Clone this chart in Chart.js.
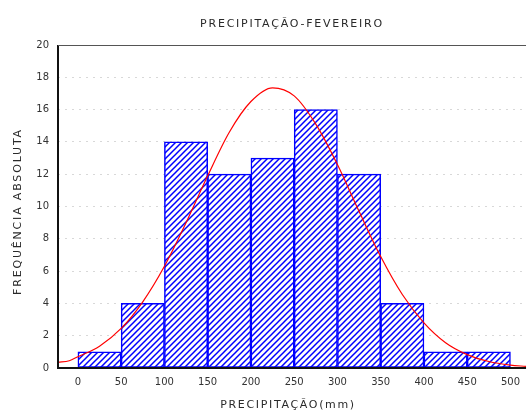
<!DOCTYPE html>
<html>
<head>
<meta charset="utf-8">
<script src="https://cdn.jsdelivr.net/npm/chart.js@4"></script>
<style>
  html, body { margin: 0; padding: 0; background: #fff; }
  canvas { display: block; }
</style>
</head>
<body>
<canvas id="histChart" width="528" height="412"></canvas>
<script>
// Data
const binCenters = [25, 75, 125, 175, 225, 275, 325, 375, 425, 475];
const frequencies = [1, 4, 14, 12, 13, 16, 12, 4, 1, 1];

// fitted normal curve
const curveX = [-23, -10, 0, 25, 50, 75, 100, 125, 150, 175, 200, 225, 250, 275, 300, 325, 350, 375, 400, 425, 450, 475, 500, 518];
const curveY = [0.35, 0.45, 0.7, 1.35, 2.45, 4.1, 6.3, 9.0, 11.9, 14.6, 16.5, 17.35, 16.85, 15.1, 12.6, 9.7, 6.9, 4.55, 2.8, 1.57, 0.83, 0.4, 0.18, 0.1];

const xTicks = [0, 50, 100, 150, 200, 250, 300, 350, 400, 450, 500];
const yTicks = [0, 2, 4, 6, 8, 10, 12, 14, 16, 18, 20];

const chartTitle = "PRECIPITAÇÃO-FEVEREIRO";
const xTitle = "PRECIPITAÇÃO(mm)";
const yTitle = "FREQUÊNCIA ABSOLUTA";

const FONT = "'DejaVu Sans', 'Liberation Sans', sans-serif";

// Diagonal hatch fill for the bars
function makeHatch() {
  const size = 6;
  const c = document.createElement("canvas");
  c.width = size;
  c.height = size;
  const g = c.getContext("2d");
  g.fillStyle = "#ffffff";
  g.fillRect(0, 0, size, size);
  g.strokeStyle = "#0000ff";
  g.lineWidth = 1.5;
  g.beginPath();
  g.moveTo(-1, size + 1);
  g.lineTo(size + 1, -1);
  g.moveTo(-1, 1);
  g.lineTo(1, -1);
  g.moveTo(size - 1, size + 1);
  g.lineTo(size + 1, size - 1);
  g.stroke();
  return g.createPattern(c, "repeat");
}

// spaced-out caption, stretched to a given width
function drawSpaced(ctx, text, cx, cy, width, angle) {
  ctx.save();
  ctx.font = "11px " + FONT;
  ctx.fillStyle = "#2a2a2a";
  ctx.textAlign = "center";
  ctx.textBaseline = "middle";
  const w = ctx.measureText(text).width;
  ctx.letterSpacing = Math.max(0, (width - w) / (text.length - 1)).toFixed(2) + "px";
  ctx.translate(cx, cy);
  ctx.rotate(angle);
  ctx.fillText(text, 0, 0);
  ctx.restore();
}

// Axis lines, top frame and captions
const framePlugin = {
  id: "frame",
  afterDatasetsDraw(chart) {
    const { ctx, chartArea } = chart;
    ctx.save();
    ctx.strokeStyle = "#111";
    ctx.lineWidth = 2;
    ctx.beginPath();
    ctx.moveTo(chartArea.left, chartArea.top);
    ctx.lineTo(chartArea.left, chartArea.bottom);
    ctx.lineTo(chartArea.right, chartArea.bottom);
    ctx.stroke();
    ctx.strokeStyle = "#555";
    ctx.lineWidth = 1;
    ctx.beginPath();
    ctx.moveTo(chartArea.left, chartArea.top + 0.5);
    ctx.lineTo(chartArea.right, chartArea.top + 0.5);
    ctx.stroke();
    ctx.restore();

    const midX = (chartArea.left + chartArea.right) / 2;
    const midY = (chartArea.top + chartArea.bottom) / 2;
    drawSpaced(ctx, chartTitle, midX, chartArea.top - 21, 182, 0);
    drawSpaced(ctx, xTitle, midX - 4, chartArea.bottom + 37, 134, 0);
    drawSpaced(ctx, yTitle, 18, midY + 5, 165, -Math.PI / 2);
  },
};

new Chart(document.getElementById("histChart"), {
  data: {
    datasets: [
      {
        type: "line",
        data: curveX.map((x, i) => ({ x: x, y: curveY[i] })),
        borderColor: "#ff0000",
        borderWidth: 1.2,
        pointRadius: 0,
        tension: 0.4,
        cubicInterpolationMode: "monotone",
        order: 0,
      },
      {
        type: "bar",
        data: binCenters.map((x, i) => ({ x: x, y: frequencies[i] })),
        backgroundColor: makeHatch(),
        borderColor: "#0000ff",
        borderWidth: 1.5,
        borderSkipped: false,
        barPercentage: 1,
        categoryPercentage: 1,
        order: 1,
      },
    ],
  },
  options: {
    responsive: false,
    animation: false,
    layout: { padding: { top: 45, left: 0, right: 0, bottom: 0 } },
    plugins: {
      legend: { display: false },
      tooltip: { enabled: false },
      title: { display: false },
    },
    scales: {
      x: {
        type: "linear",
        offset: false,
        min: -23,
        max: 518,
        afterBuildTicks: (axis) => {
          axis.ticks = xTicks.map((v) => ({ value: v }));
        },
        afterFit: (axis) => {
          axis.height = 44;
        },
        grid: { display: false, drawTicks: false, offset: false },
        border: { display: false },
        ticks: {
          color: "#333",
          font: { family: FONT, size: 10 },
          padding: 8,
          maxRotation: 0,
          autoSkip: false,
        },
      },
      y: {
        type: "linear",
        min: 0,
        max: 20,
        afterBuildTicks: (axis) => {
          axis.ticks = yTicks.map((v) => ({ value: v }));
        },
        afterFit: (axis) => {
          axis.width = 58;
        },
        grid: {
          drawTicks: false,
          color: "#d8d8d8",
          lineWidth: 1,
        },
        border: { display: false, dash: [2, 5] },
        ticks: {
          color: "#333",
          font: { family: FONT, size: 10 },
          padding: 9,
        },
      },
    },
  },
  plugins: [framePlugin],
});
</script>
</body>
</html>
